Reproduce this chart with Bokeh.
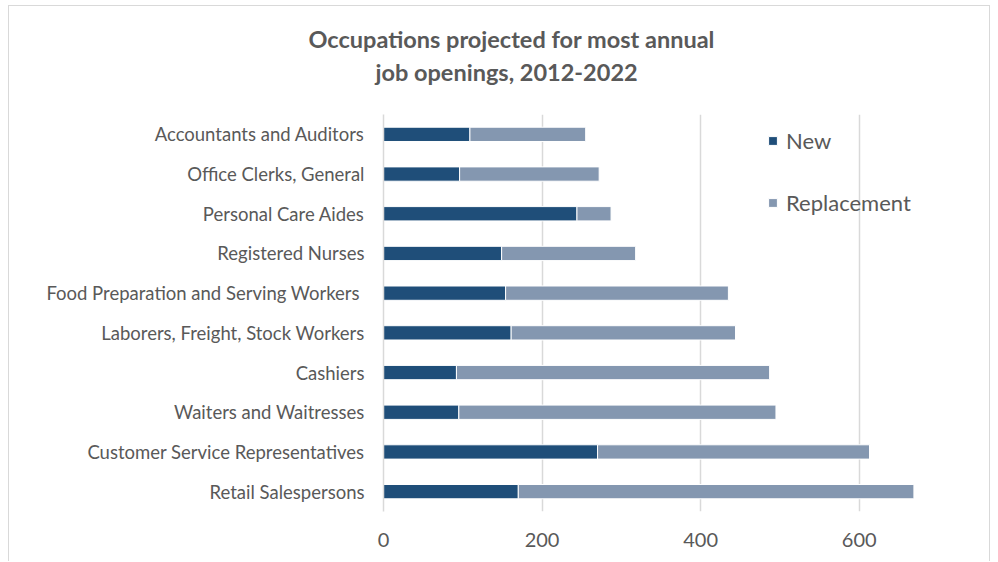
from bokeh.plotting import figure
from bokeh.models import FactorRange, Range1d, Legend, LegendItem, Title, ColumnDataSource, FixedTicker
from bokeh.embed import file_html
from bokeh.resources import INLINE

occupations = [
    "Accountants and Auditors",
    "Office Clerks, General",
    "Personal Care Aides",
    "Registered Nurses",
    "Food Preparation and Serving Workers ",
    "Laborers, Freight, Stock Workers",
    "Cashiers",
    "Waiters and Waitresses",
    "Customer Service Representatives",
    "Retail Salespersons",
]
new_openings = [109, 96, 244, 149, 154, 161, 92, 95, 270, 170]
replacement_openings = [146, 176, 43, 169, 281, 283, 395, 400, 343, 499]
x_ticks = [0, 200, 400, 600]
title_lines = ["Occupations projected for most annual", "job openings, 2012-2022"]

totals = [n + r for n, r in zip(new_openings, replacement_openings)]
src = ColumnDataSource(dict(occ=occupations, new=new_openings, rep=replacement_openings,
                            zero=[0] * len(occupations), tot=totals))

FONT = "Lato"
GREY = "#595959"

p = figure(width=982, height=556, output_backend="svg", toolbar_location=None,
           y_range=FactorRange(factors=list(reversed(occupations))),
           x_range=Range1d(0, 700),
           min_border_left=374, min_border_right=53, min_border_top=108, min_border_bottom=51)
p.styles = {"margin-left": "8px", "margin-top": "5px",
            "border-top": "1px solid #d9d9d9", "border-left": "1px solid #d9d9d9",
            "border-right": "1px solid #d9d9d9"}
p.outline_line_color = None

r_new = p.hbar(y="occ", left="zero", right="new", height=0.36, source=src,
               fill_color="#1f4e79", line_color="white", line_width=1)
r_rep = p.hbar(y="occ", left="new", right="tot", height=0.36, source=src,
               fill_color="#8497b0", line_color="white", line_width=1)

p.xgrid.ticker = FixedTicker(ticks=x_ticks)
p.xgrid.grid_line_color = "#d9d9d9"
p.xgrid.grid_line_width = 1.5
p.ygrid.grid_line_color = None

p.xaxis.ticker = FixedTicker(ticks=x_ticks)
p.xaxis.axis_line_color = None
p.xaxis.major_tick_line_color = None
p.xaxis.minor_tick_line_color = None
p.xaxis.major_label_text_font = FONT
p.xaxis.major_label_text_font_size = "20px"
p.xaxis.major_label_text_color = GREY
p.xaxis.major_label_standoff = 15

p.yaxis.axis_line_color = "#d9d9d9"
p.yaxis.axis_line_width = 1.5
p.yaxis.major_tick_line_color = None
p.yaxis.minor_tick_line_color = None
p.yaxis.major_label_text_font = FONT
p.yaxis.major_label_text_font_size = "18.5px"
p.yaxis.major_label_text_color = GREY
p.yaxis.major_label_standoff = 13

legend = Legend(items=[LegendItem(label="New", renderers=[r_new]),
                       LegendItem(label="Replacement", renderers=[r_rep])],
                location=(384, 295), orientation="vertical")
legend.background_fill_alpha = 0
legend.border_line_color = None
legend.padding = 0
legend.margin = 0
legend.spacing = 35
legend.glyph_width = 11
legend.glyph_height = 11
legend.label_text_font = FONT
legend.label_text_font_size = "22px"
legend.label_text_color = GREY
legend.label_standoff = 8
p.add_layout(legend)

# title: two centred lines, positioned left of the frame centre
for txt, off, sd in [(title_lines[1], -8, 58), (title_lines[0], -75, -52)]:
    p.add_layout(Title(text=txt, align="left", offset=off, standoff=sd,
                       text_font=FONT, text_font_style="bold", text_font_size="23.5px",
                       text_color=GREY), "above")

open("out.html", "w").write(file_html(p, INLINE))
